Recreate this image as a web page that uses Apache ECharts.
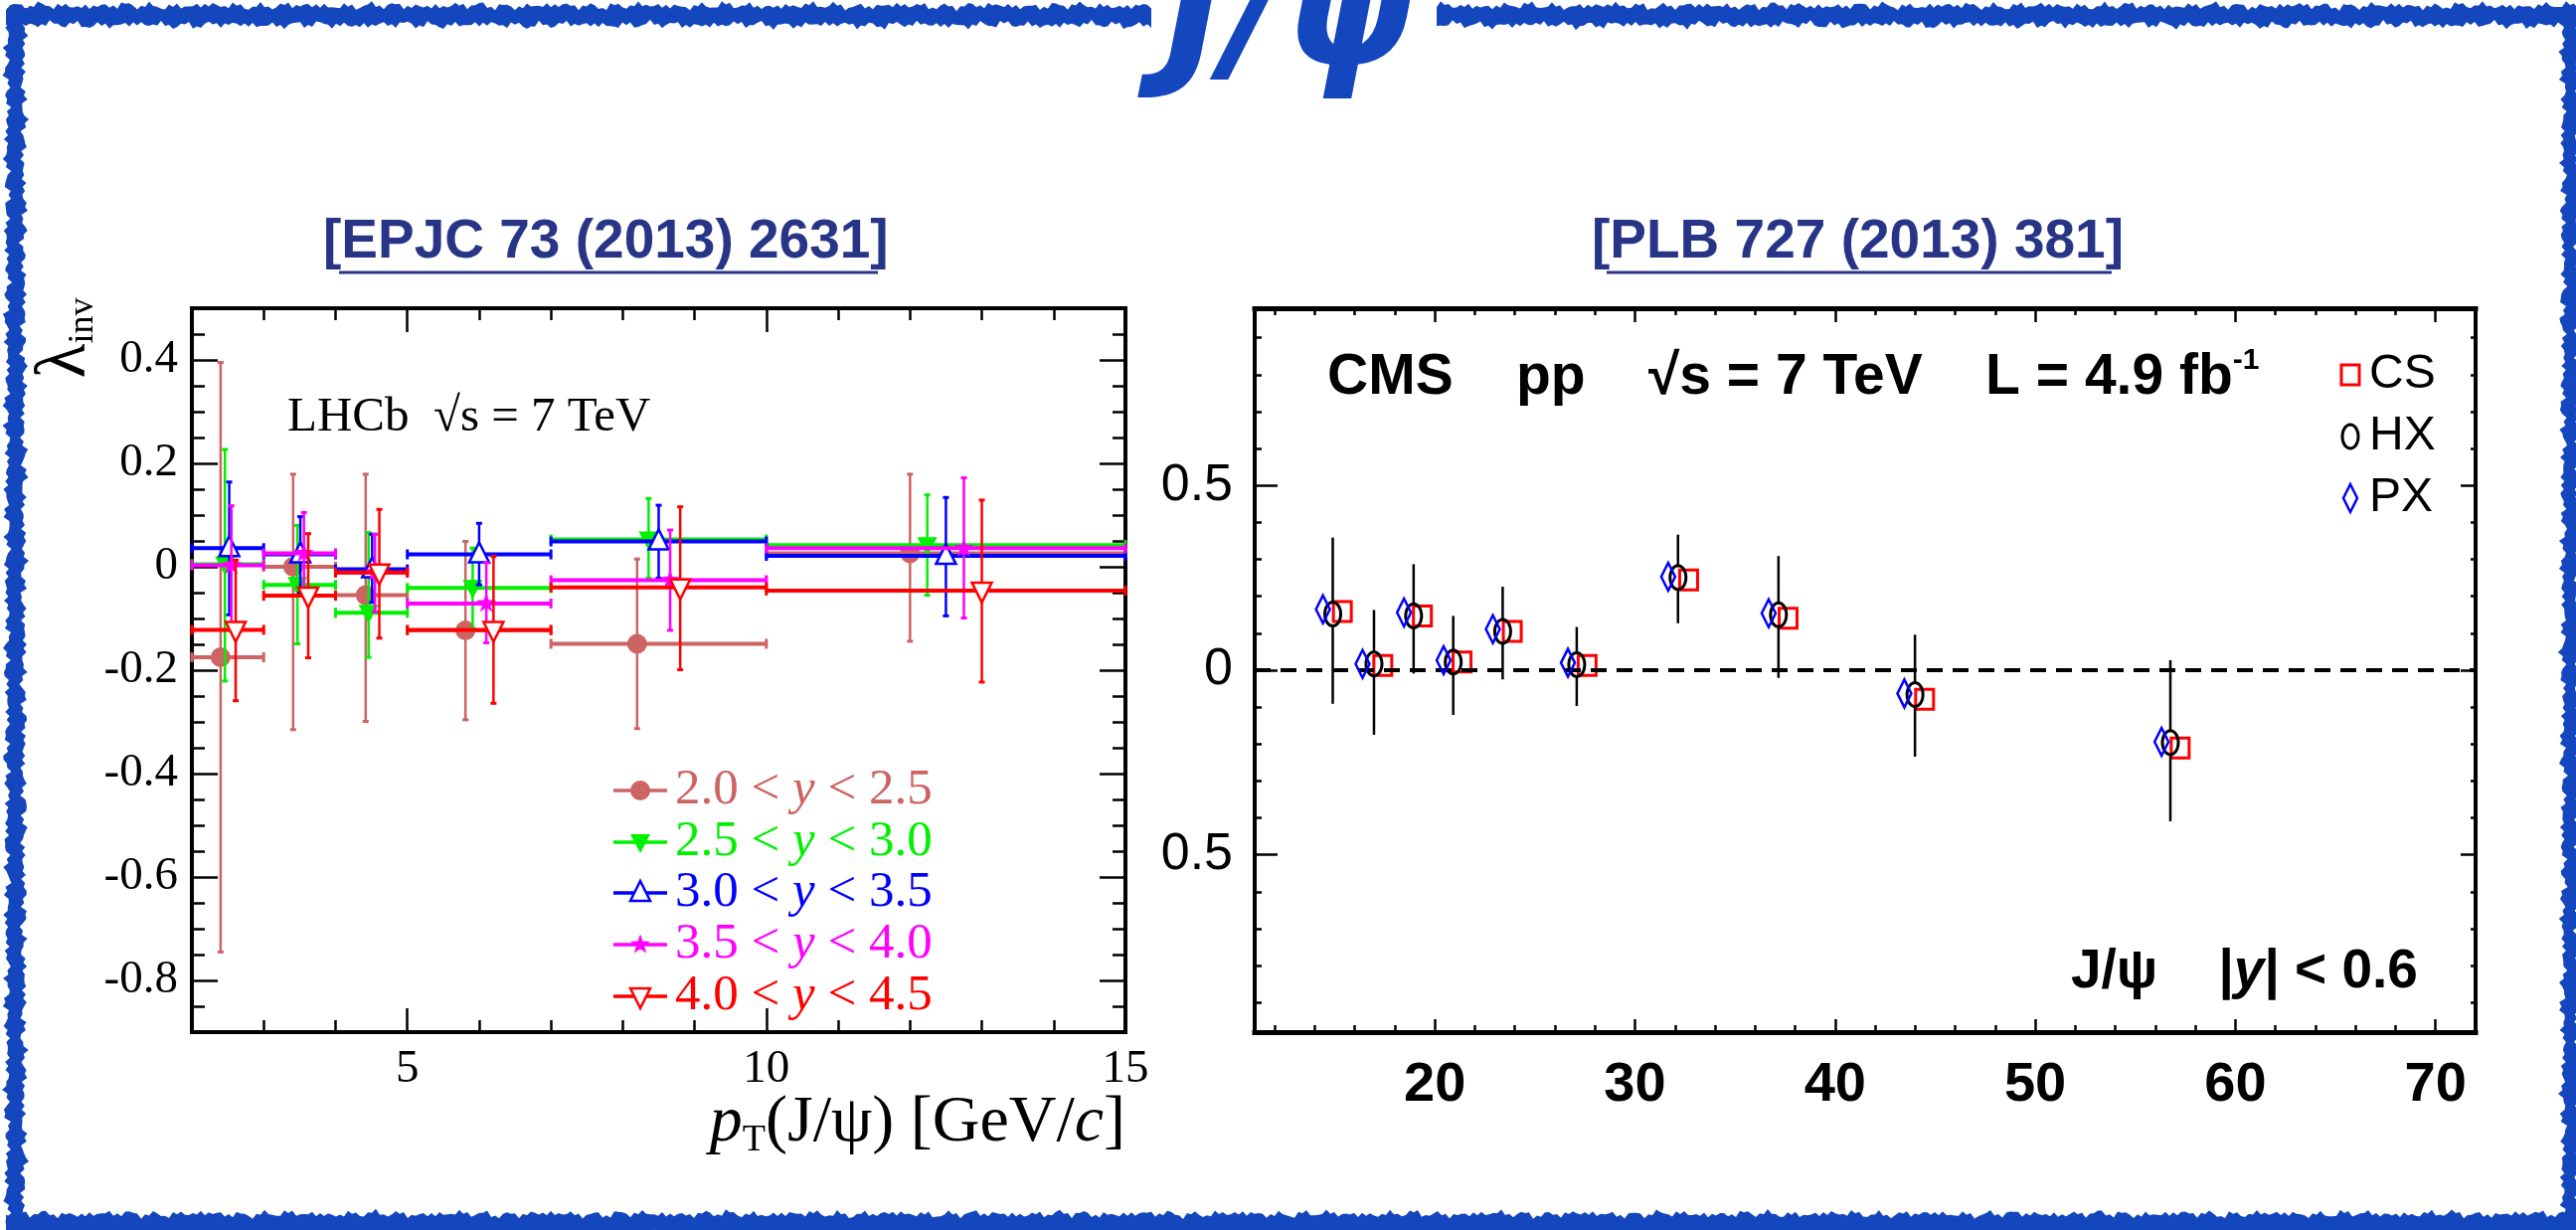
<!DOCTYPE html>
<html>
<head>
<meta charset="utf-8">
<script src="https://cdn.jsdelivr.net/npm/echarts@6/dist/echarts.min.js"></script>
<style>
  html, body { margin: 0; padding: 0; background: #ffffff; }
  #chart { width: 2591px; height: 1237px; }
</style>
</head>
<body>
<div id="chart"></div>
<script>
// ---------------- LHCb: lambda_inv vs pT in five rapidity bins ----------------
const lhcbPtEdges = [2, 3, 4, 5, 7, 10, 15];
const lhcbRapidity = [[2.0, 2.5], [2.5, 3.0], [3.0, 3.5], [3.5, 4.0], [4.0, 4.5]];

// 2.0 < y < 2.5
const ptMean_y20 = [2.40, 3.41, 4.42, 5.81, 8.20, 12.00];
const lambda_y20 = [-0.175, 0.000, -0.055, -0.123, -0.149, 0.026];
const upper_y20  = [0.395, 0.179, 0.179, 0.049, 0.015, 0.179];
const lower_y20  = [-0.745, -0.315, -0.299, -0.296, -0.313, -0.144];
// 2.5 < y < 3.0
const ptMean_y25 = [2.46, 3.47, 4.46, 5.91, 8.36, 12.24];
const lambda_y25 = [0.005, -0.035, -0.089, -0.041, 0.053, 0.042];
const upper_y25  = [0.227, 0.080, 0.066, 0.036, 0.132, 0.139];
const lower_y25  = [-0.221, -0.149, -0.175, -0.120, -0.022, -0.055];
// 3.0 < y < 3.5
const ptMean_y30 = [2.52, 3.51, 4.51, 6.00, 8.50, 12.50];
const lambda_y30 = [0.036, 0.024, -0.005, 0.024, 0.049, 0.021];
const upper_y30  = [0.164, 0.097, 0.063, 0.084, 0.119, 0.134];
const lower_y30  = [-0.093, -0.050, -0.069, -0.035, -0.022, -0.095];
// 3.5 < y < 4.0
const ptMean_y35 = [2.55, 3.56, 4.55, 6.10, 8.66, 12.75];
const lambda_y35 = [0.003, 0.026, -0.011, -0.071, -0.026, 0.036];
const upper_y35  = [0.118, 0.105, 0.063, 0.008, 0.071, 0.172];
const lower_y35  = [-0.113, -0.048, -0.087, -0.147, -0.123, -0.099];
// 4.0 < y < 4.5
const ptMean_y40 = [2.61, 3.62, 4.61, 6.20, 8.80, 13.00];
const lambda_y40 = [-0.122, -0.056, -0.011, -0.122, -0.040, -0.046];
const upper_y40  = [0.013, 0.064, 0.111, 0.020, 0.116, 0.129];
const lower_y40  = [-0.259, -0.176, -0.138, -0.264, -0.199, -0.223];

const lhcbXTicks = [5, 10, 15];
const lhcbYTicks = [-0.8, -0.6, -0.4, -0.2, 0, 0.2, 0.4];

// ---------------- CMS: lambda_inv vs pT, |y| < 0.6, three frames ----------------
const cmsFrames = ['CS', 'HX', 'PX'];
const cmsPt_HX     = [14.90, 16.96, 18.94, 20.92, 23.39, 27.09, 32.15, 37.17, 43.99, 56.75];
const cmsLambda_HX = [0.152, 0.017, 0.147, 0.022, 0.105, 0.015, 0.251, 0.150, -0.066, -0.196];
const cmsUpper_HX  = [0.359, 0.163, 0.287, 0.147, 0.226, 0.117, 0.367, 0.309, 0.096, 0.027];
const cmsLower_HX  = [-0.091, -0.175, -0.009, -0.121, -0.025, -0.097, 0.127, -0.021, -0.234, -0.409];
const cmsPt_CS     = [15.38, 17.40, 19.38, 21.36, 23.87, 27.61, 32.68, 37.65, 44.47, 57.24];
const cmsLambda_CS = [0.159, 0.013, 0.147, 0.022, 0.105, 0.013, 0.244, 0.141, -0.079, -0.211];
const cmsPt_PX     = [14.41, 16.39, 18.46, 20.44, 22.90, 26.65, 31.66, 36.68, 43.46, 56.31];
const cmsLambda_PX = [0.165, 0.017, 0.156, 0.027, 0.111, 0.020, 0.253, 0.154, -0.063, -0.194];

const cmsXTicks = [20, 30, 40, 50, 60, 70];
const cmsYTicks = [-0.5, 0, 0.5];
const cmsYTickLabels = ['0.5', '0', '0.5'];

// ---------------- styling ----------------
const SERIF = "'Liberation Serif','Times New Roman',serif";
const SANS = "'Liberation Sans',Arial,Helvetica,sans-serif";
const FRAME_BLUE = '#1446be';
const REF_NAVY = '#283587';

const lhcbStyles = [
  { color: '#cd6464', marker: 'dot' },
  { color: '#00f000', marker: 'triDownFilled' },
  { color: '#0000ff', marker: 'triUpOpen' },
  { color: '#ff00ff', marker: 'star' },
  { color: '#ff0000', marker: 'triDownOpen' }
];

const lhcbSets = [
  { pt: ptMean_y20, lam: lambda_y20, up: upper_y20, lo: lower_y20 },
  { pt: ptMean_y25, lam: lambda_y25, up: upper_y25, lo: lower_y25 },
  { pt: ptMean_y30, lam: lambda_y30, up: upper_y30, lo: lower_y30 },
  { pt: ptMean_y35, lam: lambda_y35, up: upper_y35, lo: lower_y35 },
  { pt: ptMean_y40, lam: lambda_y40, up: upper_y40, lo: lower_y40 }
];

function steps(a, b, d) {
  const out = [];
  const n = Math.round((b - a) / d);
  for (let i = 0; i <= n; i++) out.push(+(a + i * d).toFixed(4));
  return out;
}

// marker outlines around (cx, cy)
function markerEl(kind, cx, cy, color, s) {
  const h = s / 2;
  switch (kind) {
    case 'dot':
      return { type: 'circle', shape: { cx, cy, r: h }, style: { fill: color } };
    case 'triDownFilled':
      return { type: 'polygon', shape: { points: [[cx - h, cy - h * 0.8], [cx + h, cy - h * 0.8], [cx, cy + h * 1.1]] }, style: { fill: color } };
    case 'triUpOpen':
      return { type: 'polygon', shape: { points: [[cx - h, cy + h * 0.8], [cx + h, cy + h * 0.8], [cx, cy - h * 1.2]] }, style: { fill: '#fff', stroke: color, lineWidth: 2.5 } };
    case 'triDownOpen':
      return { type: 'polygon', shape: { points: [[cx - h, cy - h * 0.8], [cx + h, cy - h * 0.8], [cx, cy + h * 1.2]] }, style: { fill: '#fff', stroke: color, lineWidth: 2.5 } };
    case 'star': {
      const pts = [];
      for (let k = 0; k < 10; k++) {
        const r = k % 2 === 0 ? h * 1.05 : h * 0.42;
        const a = -Math.PI / 2 + k * Math.PI / 5;
        pts.push([cx + r * Math.cos(a), cy + r * Math.sin(a)]);
      }
      return { type: 'polygon', shape: { points: pts }, style: { fill: color } };
    }
    case 'square':
      return { type: 'rect', shape: { x: cx - 9, y: cy - 10, width: 18, height: 20 }, style: { fill: 'none', stroke: color, lineWidth: 3 } };
    case 'oval': {
      const pts = [];
      for (let k = 0; k < 36; k++) {
        const a = k * Math.PI / 18;
        pts.push([cx + 8 * Math.cos(a), cy + 12 * Math.sin(a)]);
      }
      return { type: 'polygon', shape: { points: pts }, style: { fill: 'none', stroke: color, lineWidth: 3 } };
    }
    case 'diamond':
      return { type: 'polygon', shape: { points: [[cx, cy - 14], [cx + 7, cy], [cx, cy + 14], [cx - 7, cy]] }, style: { fill: 'none', stroke: color, lineWidth: 2.5 } };
  }
}

function lhcbRender(style) {
  return function (params, api) {
    const pt = api.value(0), lam = api.value(1), lo = api.value(2), hi = api.value(3);
    const b0 = api.value(4), b1 = api.value(5);
    const c = api.coord([pt, lam]);
    const l = api.coord([b0, lam]);
    const r = api.coord([b1, lam]);
    const t = api.coord([pt, hi]);
    const b = api.coord([pt, lo]);
    const col = style.color;
    return {
      type: 'group',
      children: [
        { type: 'line', shape: { x1: l[0], y1: l[1], x2: r[0], y2: r[1] }, style: { stroke: col, lineWidth: 4 } },
        { type: 'line', shape: { x1: l[0], y1: l[1] - 5, x2: l[0], y2: l[1] + 5 }, style: { stroke: col, lineWidth: 3 } },
        { type: 'line', shape: { x1: r[0], y1: r[1] - 5, x2: r[0], y2: r[1] + 5 }, style: { stroke: col, lineWidth: 3 } },
        { type: 'line', shape: { x1: t[0], y1: t[1], x2: b[0], y2: b[1] }, style: { stroke: col, lineWidth: 2.5 } },
        { type: 'line', shape: { x1: t[0] - 3, y1: t[1], x2: t[0] + 3, y2: t[1] }, style: { stroke: col, lineWidth: 3 } },
        { type: 'line', shape: { x1: b[0] - 3, y1: b[1], x2: b[0] + 3, y2: b[1] }, style: { stroke: col, lineWidth: 3 } },
        markerEl(style.marker, c[0], c[1], col, 20)
      ]
    };
  };
}

function cmsRender(kind, color, withBars) {
  return function (params, api) {
    const c = api.coord([api.value(0), api.value(1)]);
    const children = [];
    if (withBars) {
      const t = api.coord([api.value(0), api.value(3)]);
      const b = api.coord([api.value(0), api.value(2)]);
      children.push({ type: 'line', shape: { x1: t[0], y1: t[1], x2: t[0], y2: Math.min(c[1] - 12, b[1]) }, style: { stroke: '#000', lineWidth: 2.5 } });
      children.push({ type: 'line', shape: { x1: b[0], y1: Math.max(c[1] + 12, t[1]), x2: b[0], y2: b[1] }, style: { stroke: '#000', lineWidth: 2.5 } });
    }
    children.push(markerEl(kind, c[0], c[1], color, 20));
    return { type: 'group', children };
  };
}

// axes: each panel has a drawn frame with long (major) and short (minor) inward ticks on all sides
function frameAxis(grid, position, min, max, tickVals, len, opts) {
  opts = opts || {};
  const a = {
    type: 'value', gridIndex: grid, position, min, max,
    splitLine: { show: false },
    axisLine: { show: !!opts.line, onZero: false, lineStyle: { color: '#000', width: opts.lineWidth || 4, cap: 'square' } },
    axisTick: { show: true, inside: true, length: len, customValues: tickVals, lineStyle: { color: '#000', width: opts.tickWidth || 2.5 } },
    axisLabel: { show: false },
    axisPointer: { show: false },
    silent: true
  };
  if (opts.labels) {
    a.axisLabel = Object.assign({ show: true, customValues: opts.labels, color: '#000' }, opts.labelStyle);
  }
  return a;
}

const lhcbXMinor = steps(2, 15, 1);
const lhcbYMinor = steps(-0.9, 0.5, 0.05);
const cmsXMinor = steps(12, 72, 2);
const cmsYMinor = steps(-0.9, 0.9, 0.1);

const LX = [2, 15], LY = [-0.9, 0.5], CX = [11, 72], CY = [-0.98, 0.98];

const xAxes = [
  frameAxis(0, 'bottom', LX[0], LX[1], lhcbXTicks, 24, {
    line: true, labels: lhcbXTicks,
    labelStyle: { fontFamily: SERIF, fontSize: 47, margin: 14 }
  }),
  frameAxis(0, 'bottom', LX[0], LX[1], lhcbXMinor, 12),
  frameAxis(0, 'top', LX[0], LX[1], lhcbXTicks, 24, { line: true }),
  frameAxis(0, 'top', LX[0], LX[1], lhcbXMinor, 12),
  frameAxis(1, 'bottom', CX[0], CX[1], cmsXTicks, 13, {
    line: true, lineWidth: 5, labels: cmsXTicks,
    labelStyle: { fontFamily: SANS, fontWeight: 'bold', fontSize: 56, margin: 26 }
  }),
  frameAxis(1, 'bottom', CX[0], CX[1], cmsXMinor, 7),
  frameAxis(1, 'top', CX[0], CX[1], cmsXTicks, 14, { line: true, lineWidth: 5 }),
  frameAxis(1, 'top', CX[0], CX[1], cmsXMinor, 7)
];

const yAxes = [
  frameAxis(0, 'left', LY[0], LY[1], lhcbYTicks, 26, {
    line: true, labels: lhcbYTicks,
    labelStyle: { fontFamily: SERIF, fontSize: 47, margin: 14, formatter: v => (Math.abs(v) < 1e-9 ? '0' : v.toFixed(1)) }
  }),
  frameAxis(0, 'left', LY[0], LY[1], lhcbYMinor, 13),
  frameAxis(0, 'right', LY[0], LY[1], lhcbYTicks, 26, { line: true }),
  frameAxis(0, 'right', LY[0], LY[1], lhcbYMinor, 13),
  frameAxis(1, 'left', CY[0], CY[1], cmsYTicks, 23, {
    line: true, lineWidth: 4, labels: cmsYTicks,
    labelStyle: { fontFamily: SANS, fontSize: 52, margin: 22, formatter: v => cmsYTickLabels[cmsYTicks.findIndex(t => Math.abs(t - v) < 1e-9)] }
  }),
  frameAxis(1, 'left', CY[0], CY[1], cmsYMinor, 7),
  frameAxis(1, 'right', CY[0], CY[1], cmsYTicks, 15, { line: true, lineWidth: 4 }),
  frameAxis(1, 'right', CY[0], CY[1], cmsYMinor, 5)
];

const series = [];
lhcbSets.forEach((set, i) => {
  const rows = set.pt.map((p, k) => [p, set.lam[k], set.lo[k], set.up[k], lhcbPtEdges[k], lhcbPtEdges[k + 1]]);
  series.push({
    type: 'custom', name: 'lhcb' + i, xAxisIndex: 0, yAxisIndex: 0,
    renderItem: lhcbRender(lhcbStyles[i]), data: rows, silent: true, z: 2 + i
  });
});

series.push({
  type: 'custom', name: 'CS', xAxisIndex: 4, yAxisIndex: 4, silent: true, z: 3,
  renderItem: cmsRender('square', '#ff0000', false),
  data: cmsPt_CS.map((p, k) => [p, cmsLambda_CS[k]])
});
series.push({
  type: 'custom', name: 'HX', xAxisIndex: 4, yAxisIndex: 4, silent: true, z: 4,
  renderItem: cmsRender('oval', '#000000', true),
  data: cmsPt_HX.map((p, k) => [p, cmsLambda_HX[k], cmsLower_HX[k], cmsUpper_HX[k]]),
  markLine: {
    silent: true, symbol: 'none', animation: false,
    label: { show: false },
    lineStyle: { color: '#000', width: 4, type: [16, 10] },
    data: [{ yAxis: 0 }]
  }
});
series.push({
  type: 'custom', name: 'PX', xAxisIndex: 4, yAxisIndex: 4, silent: true, z: 5,
  renderItem: cmsRender('diamond', '#0000ff', false),
  data: cmsPt_PX.map((p, k) => [p, cmsLambda_PX[k]])
});

// ---------------- decorations, annotations and legends ----------------
// crayon-like edge: sum of incommensurate sines for a rough stroke outline
function wobble(i, seed) {
  return 2.0 * Math.sin(i * 2.71 + seed) + 1.6 * Math.sin(i * 1.13 + seed * 1.7)
       + 1.2 * Math.sin(i * 5.37 + seed * 0.3) + 0.8 * Math.sin(i * 0.29 + seed * 2.3);
}
function roughBar(x0, y0, x1, y1, seed) {
  const pts = [];
  const horizontal = (x1 - x0) >= (y1 - y0);
  const step = 4;
  if (horizontal) {
    const n = Math.ceil((x1 - x0) / step);
    for (let i = 0; i <= n; i++) pts.push([x0 + i * step, y0 + wobble(i, seed)]);
    for (let i = n; i >= 0; i--) pts.push([x0 + i * step, y1 + wobble(i, seed + 5)]);
  } else {
    const n = Math.ceil((y1 - y0) / step);
    for (let i = 0; i <= n; i++) pts.push([x0 + wobble(i, seed), y0 + i * step]);
    for (let i = n; i >= 0; i--) pts.push([x1 + wobble(i, seed + 5), y0 + i * step]);
  }
  return { type: 'polygon', shape: { points: pts }, style: { fill: FRAME_BLUE }, silent: true };
}

function txt(x, y, text, font, fill, align, extra) {
  return Object.assign({
    type: 'text', silent: true,
    style: {
      x, y, text, font, fill,
      align: align || 'left', textAlign: align || 'left',
      verticalAlign: 'middle', textVerticalAlign: 'middle'
    }
  }, extra || {});
}

const graphics = [];
// page frame
graphics.push(roughBar(6, 6, 1156, 25, 1));
graphics.push(roughBar(1445, 6, 2591, 25, 2));
graphics.push(roughBar(7, 8, 24, 1237, 3));
graphics.push(roughBar(2578, 8, 2593, 1237, 6));
graphics.push(roughBar(6, 1221, 2591, 1242, 4));

// page title
graphics.push(txt(1297, 22, 'J/ψ', "italic bold 164px 'DejaVu Sans'", FRAME_BLUE, 'center'));

// reference tags
graphics.push(txt(325, 244, '[EPJC 73 (2013) 2631]', "bold 55px 'Liberation Sans'", REF_NAVY, 'left'));
graphics.push({ type: 'line', silent: true, shape: { x1: 341, y1: 274, x2: 883, y2: 274 }, style: { stroke: REF_NAVY, lineWidth: 3 } });
graphics.push(txt(1601, 244, '[PLB 727 (2013) 381]', "bold 55px 'Liberation Sans'", REF_NAVY, 'left'));
graphics.push({ type: 'line', silent: true, shape: { x1: 1616, y1: 274, x2: 2124, y2: 274 }, style: { stroke: REF_NAVY, lineWidth: 3 } });

// LHCb axis titles and label
graphics.push({
  type: 'text', silent: true, x: 66, y: 340, rotation: Math.PI / 2,
  style: {
    text: '{l|λ}{s|inv}', x: 0, y: 0, align: 'center', textAlign: 'center', verticalAlign: 'middle', textVerticalAlign: 'middle',
    rich: {
      l: { fontFamily: SERIF, fontSize: 72, fill: '#000', color: '#000', lineHeight: 72 },
      s: { fontFamily: SERIF, fontSize: 36, fill: '#000', color: '#000', verticalAlign: 'bottom', lineHeight: 40 }
    }
  }
});
graphics.push({
  type: 'text', silent: true,
  style: {
    x: 1132, y: 1130, align: 'right', textAlign: 'right', verticalAlign: 'middle', textVerticalAlign: 'middle',
    text: '{p|p}{t|T}{n|(J/ψ) [GeV/}{c|c}{n|]}',
    rich: {
      p: { fontFamily: SERIF, fontStyle: 'italic', fontSize: 66, fill: '#000', color: '#000', lineHeight: 72 },
      t: { fontFamily: SERIF, fontSize: 38, fill: '#000', color: '#000', verticalAlign: 'bottom', lineHeight: 40 },
      n: { fontFamily: SERIF, fontSize: 66, fill: '#000', color: '#000', lineHeight: 72 },
      c: { fontFamily: SERIF, fontStyle: 'italic', fontSize: 66, fill: '#000', color: '#000', lineHeight: 72 }
    }
  }
});
graphics.push(txt(289, 420, 'LHCb  √s = 7 TeV', '49px ' + SERIF, '#000', 'left'));

// LHCb legend
const lhcbLegendY = [795, 847, 898, 950, 1002];
lhcbRapidity.forEach((r, i) => {
  const st = lhcbStyles[i];
  const y = lhcbLegendY[i];
  graphics.push({ type: 'line', silent: true, shape: { x1: 617, y1: y, x2: 671, y2: y }, style: { stroke: st.color, lineWidth: 3.5 } });
  graphics.push(Object.assign({ silent: true }, markerEl(st.marker, 644, y, st.color, 20)));
  graphics.push({
    type: 'text', silent: true,
    style: {
      x: 679, y, align: 'left', textAlign: 'left', verticalAlign: 'middle', textVerticalAlign: 'middle',
      text: '{n|' + r[0].toFixed(1) + ' < }{i|y}{n| < ' + r[1].toFixed(1) + '}',
      rich: {
        n: { fontFamily: SERIF, fontSize: 51, fill: st.color, color: st.color },
        i: { fontFamily: SERIF, fontStyle: 'italic', fontSize: 51, fill: st.color, color: st.color }
      }
    }
  });
});

// CMS annotations
graphics.push({
  type: 'text', silent: true,
  style: {
    x: 1335, y: 380, align: 'left', textAlign: 'left', verticalAlign: 'middle', textVerticalAlign: 'middle',
    text: '{b|CMS    pp    √s = 7 TeV    L = 4.9 fb}{sup|-1}',
    rich: {
      b: { fontFamily: SANS, fontWeight: 'bold', fontSize: 57, fill: '#000', color: '#000', lineHeight: 64 },
      sup: { fontFamily: SANS, fontWeight: 'bold', fontSize: 30, fill: '#000', color: '#000', verticalAlign: 'top', lineHeight: 30 }
    }
  }
});
graphics.push({
  type: 'text', silent: true,
  style: {
    x: 2083, y: 978, align: 'left', textAlign: 'left', verticalAlign: 'middle', textVerticalAlign: 'middle',
    text: '{b|J/ψ    |}{i|y}{b|| < 0.6}',
    rich: {
      b: { fontFamily: SANS, fontWeight: 'bold', fontSize: 55, fill: '#000', color: '#000' },
      i: { fontFamily: SANS, fontWeight: 'bold', fontStyle: 'italic', fontSize: 55, fill: '#000', color: '#000' }
    }
  }
});

// CMS legend
const cmsLegendY = [377, 439, 501];
const cmsLegendMarkers = [['square', '#ff0000'], ['oval', '#000000'], ['diamond', '#0000ff']];
cmsFrames.forEach((f, i) => {
  const m = cmsLegendMarkers[i];
  graphics.push(Object.assign({ silent: true }, markerEl(m[0], 2364, cmsLegendY[i], m[1], 20)));
  graphics.push(txt(2383, cmsLegendY[i], f, '48px ' + SANS, '#000', 'left'));
});

const chart = echarts.init(document.getElementById('chart'), null, { renderer: 'canvas' });
chart.setOption({
  backgroundColor: '#ffffff',
  animation: false,
  grid: [
    { left: 193, top: 310, width: 939, height: 728, outerBoundsMode: 'none' },
    { left: 1262, top: 310, width: 1228, height: 728, outerBoundsMode: 'none' }
  ],
  xAxis: xAxes,
  yAxis: yAxes,
  series,
  graphic: { elements: graphics }
});
</script>
</body>
</html>
